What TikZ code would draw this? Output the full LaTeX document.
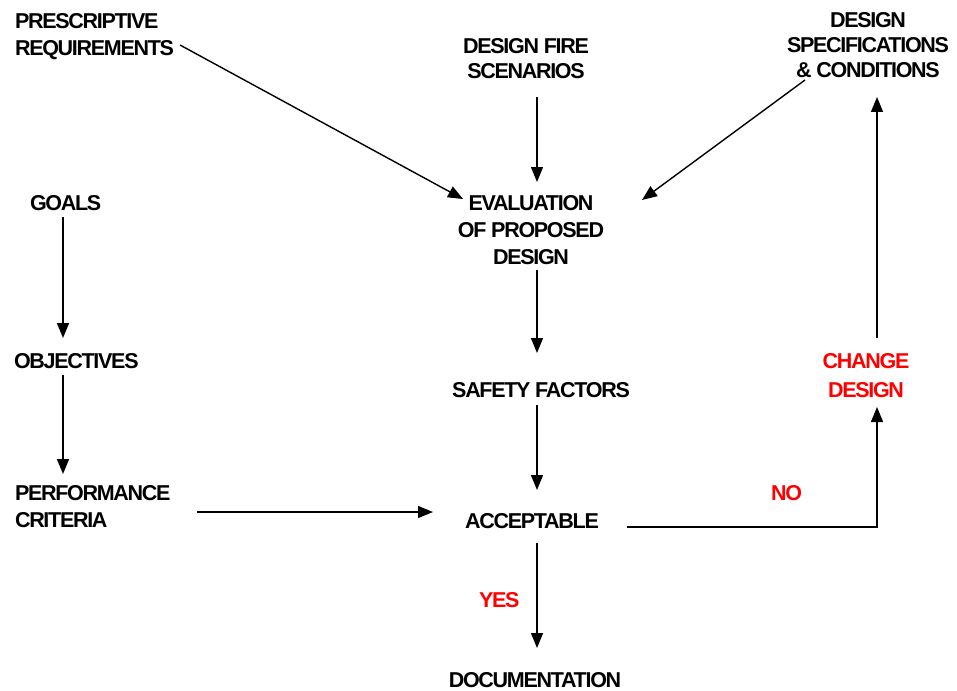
\documentclass[tikz,border=0pt]{standalone}
\usepackage{fontspec}
\setmainfont{Liberation Sans}[LetterSpace=-6]
\usetikzlibrary{arrows.meta,calc}

\begin{document}
\begin{tikzpicture}[x=1pt,y=-1pt,
  lbl/.style={font=\fontsize{21.5}{27}\selectfont\bfseries, inner sep=0pt, outer sep=0pt},
  tight/.style={font=\fontsize{21.5}{25}\selectfont\bfseries},
  redlbl/.style={lbl, text={rgb,255:red,255;green,0;blue,0}},
  arr/.style={line width=1.4pt, -{Triangle[length=15pt,width=12pt]}}
]
\useasboundingbox (0,0) rectangle (957,690);

% labels
\node[lbl, anchor=north west, align=left] (presc) at (15,13) {PRESCRIPTIVE\\REQUIREMENTS};
\node[lbl, tight, anchor=north, align=center] (fire) at (526,38) {DESIGN FIRE\\SCENARIOS};
\node[lbl, tight, anchor=north, align=center] (spec) at (868,12) {DESIGN\\SPECIFICATIONS\\\& CONDITIONS};
\node[lbl, anchor=north west] (goals) at (30,195) {GOALS};
\node[lbl, anchor=north west] (obj) at (14,353) {OBJECTIVES};
\node[lbl, anchor=north west, align=left] (perf) at (15,485) {PERFORMANCE\\CRITERIA};
\node[lbl, anchor=north, align=center] (eval) at (531,195) {EVALUATION\\OF PROPOSED\\DESIGN};
\node[lbl, anchor=north] (safety) at (541,382) {SAFETY FACTORS};
\node[lbl, anchor=north] (acc) at (532,513) {ACCEPTABLE};
\node[lbl, anchor=north] (doc) at (535,672) {DOCUMENTATION};
\node[redlbl, font=\fontsize{21.5}{29}\selectfont\bfseries, anchor=north, align=center] (change) at (866,353) {CHANGE\\DESIGN};
\node[redlbl, anchor=north west] (no) at (771,485) {NO};
\node[redlbl, anchor=north west] (yes) at (479,592) {YES};

% connectors
\draw[arr] ($(presc.north west)+(165,32)$) -- ($(eval.north)+(-68,4)$);
\draw[arr] ($(fire.north)+(11,59)$) -- ($(eval.north)+(6,-13)$);
\draw[arr] ($(spec.north)+(-63,68)$) -- ($(eval.north)+(111,5)$);
\draw[arr] ($(change.north)+(11,-15)$) -- ($(spec.north)+(9,85)$);
\draw[arr] ($(goals.north west)+(33,22)$) -- ($(obj.north west)+(49,-15)$);
\draw[arr] ($(obj.north west)+(49,22)$) -- ($(perf.north west)+(48,-11)$);
\draw[arr] ($(perf.north west)+(182,27)$) -- ($(acc.north)+(-99,-1)$);
\draw[arr] ($(eval.north)+(6,75)$) -- ($(safety.north)+(-4,-29)$);
\draw[arr] ($(safety.north)+(-4,23)$) -- ($(acc.north)+(5,-23)$);
\draw[arr] ($(acc.north)+(5,30)$) -- ($(doc.north)+(2,-24)$);
\draw[arr] ($(acc.north)+(95,14)$) -| ($(change.north)+(11,54)$);
\end{tikzpicture}
\end{document}
